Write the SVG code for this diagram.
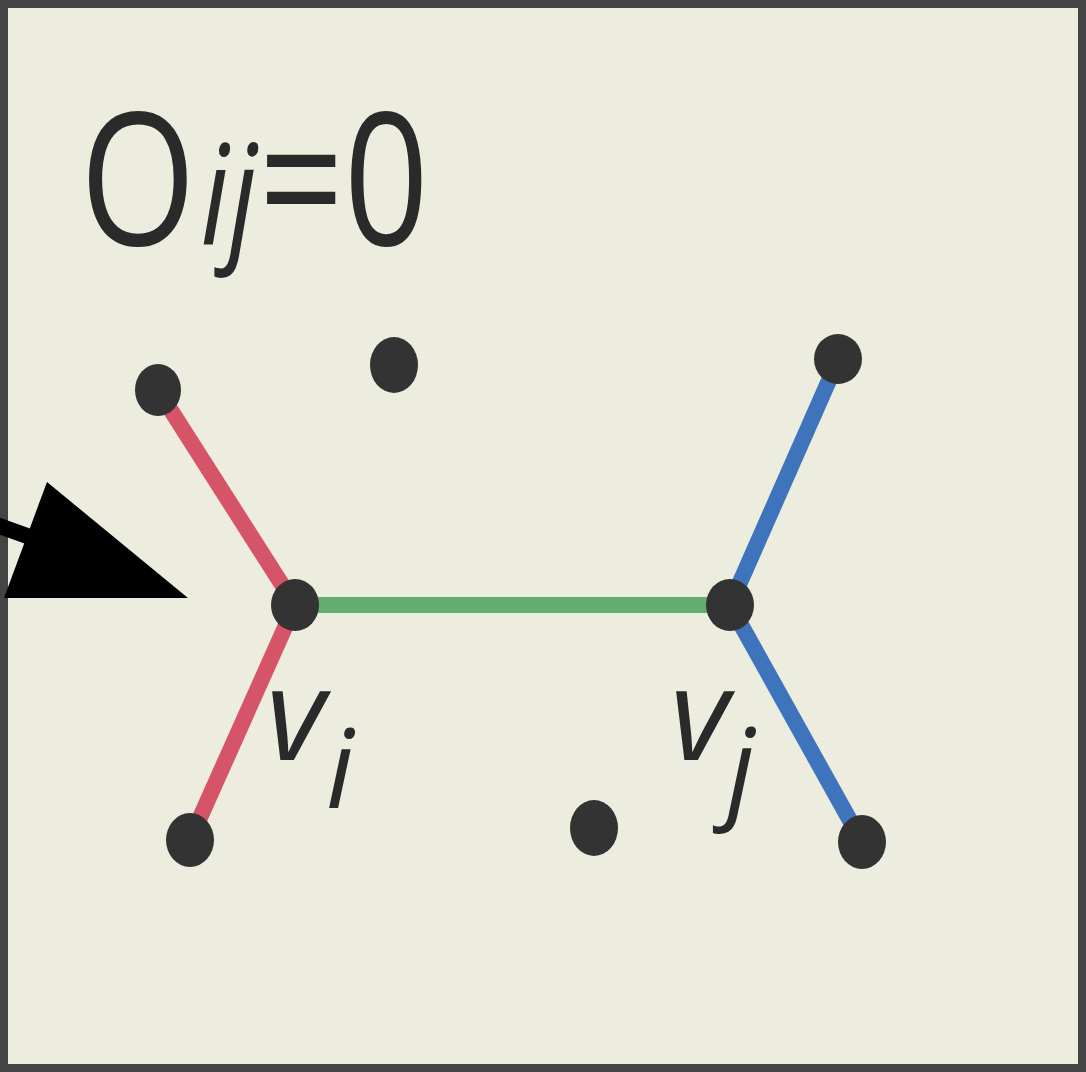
<svg xmlns="http://www.w3.org/2000/svg" width="1086" height="1072" viewBox="0 0 1086 1072">
  <style>
    .dot { fill: #333333; }
    .edge { fill: none; stroke-width: 16; stroke-linecap: butt; }
    .red { stroke: #D65468; }
    .green { stroke: #63AD6E; }
    .blue { stroke: #3E74BC; }
    .lbl { font-family: "Open Sans", "Liberation Sans", sans-serif; fill: #2a2a2a; }
    .it { font-style: italic; }
  </style>
  <rect x="4" y="4" width="1078" height="1064" fill="#ECECDF" stroke="#444444" stroke-width="8"/>

  <g id="connectors">
    <line class="edge red" x1="158" y1="390" x2="295" y2="605"/>
    <line class="edge red" x1="295" y1="605" x2="190" y2="840"/>
    <line class="edge green" x1="295" y1="605" x2="730" y2="605"/>
    <line class="edge blue" x1="838" y1="360" x2="730" y2="605"/>
    <line class="edge blue" x1="730" y1="605" x2="862" y2="842"/>
  </g>

  <g id="title">
    <text class="lbl" transform="translate(80,245) scale(0.8,1)" font-size="186">O<tspan class="it" font-size="140" dx="6">ij</tspan><tspan dx="2">=0</tspan></text>
  </g>

  <g id="n1"><ellipse class="dot" cx="158" cy="390" rx="23" ry="26"/></g>
  <g id="n2"><ellipse class="dot" cx="394" cy="365" rx="24" ry="28"/></g>
  <g id="n3"><ellipse class="dot" cx="838" cy="359" rx="24" ry="25"/></g>
  <g id="vi"><ellipse class="dot" cx="295" cy="605" rx="24" ry="26"/>
    <text class="lbl it" x="266" y="760" font-size="128">v<tspan dx="1" dy="48" font-size="110">i</tspan></text>
  </g>
  <g id="vj"><ellipse class="dot" cx="730" cy="605" rx="24" ry="26"/>
    <text class="lbl it" x="670" y="760" font-size="128">v<tspan dx="-2" dy="48" font-size="110">j</tspan></text>
  </g>
  <g id="n6"><ellipse class="dot" cx="190" cy="840" rx="24" ry="27"/></g>
  <g id="n7"><ellipse class="dot" cx="594" cy="828" rx="24" ry="28"/></g>
  <g id="n8"><ellipse class="dot" cx="862" cy="842" rx="24" ry="27"/></g>

  <g id="arrow">
    <line x1="-20" y1="519" x2="30" y2="537" stroke="#000" stroke-width="16"/>
    <polygon points="47,482 4,598 188,598" fill="#000"/>
  </g>
</svg>
